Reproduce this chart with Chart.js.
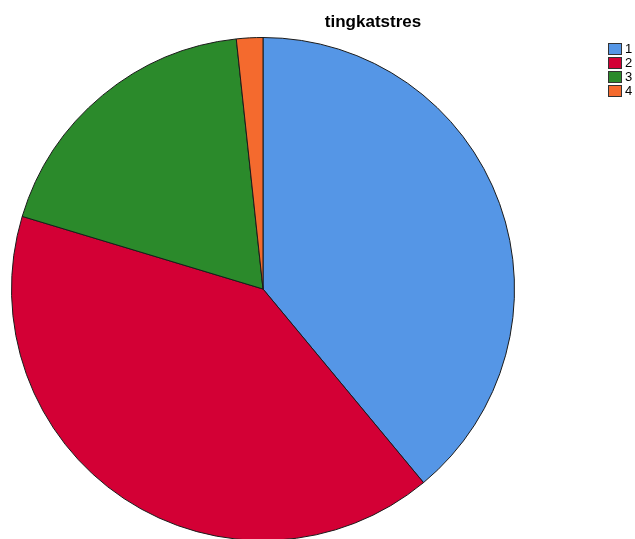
<!DOCTYPE html>
<html>
<head>
<meta charset="utf-8">
<script src="https://cdn.jsdelivr.net/npm/chart.js@4"></script>
<style>
html,body{margin:0;padding:0;background:#fff;overflow:hidden;width:635px;height:539px;}
#wrap{position:absolute;left:0;top:0;width:635px;height:560px;}
</style>
</head>
<body>
<div id="wrap"><canvas id="c" width="635" height="560"></canvas></div>
<script>
const titleText = "tingkatstres";
const categories = ["1", "2", "3", "4"];
const counts = [23, 24, 11, 1];
const colors = ["#5596E6", "#D30035", "#2B8A2B", "#F46A2E"];

const overlay = {
  id: 'overlay',
  afterDraw(chart) {
    const ctx = chart.ctx;
    ctx.save();
    ctx.fillStyle = '#000';
    ctx.font = 'bold 17px "Liberation Sans", Arial, sans-serif';
    ctx.textAlign = 'center';
    ctx.textBaseline = 'alphabetic';
    ctx.fillText(titleText, 373, 27);
    ctx.font = '13px "Liberation Sans", Arial, sans-serif';
    ctx.textAlign = 'left';
    ctx.textBaseline = 'middle';
    categories.forEach((c, i) => {
      const y = 43 + i * 14;
      ctx.fillStyle = colors[i];
      ctx.fillRect(608, y, 14, 12);
      ctx.strokeStyle = '#333';
      ctx.lineWidth = 1;
      ctx.strokeRect(608.5, y + 0.5, 13, 11);
      ctx.fillStyle = '#000';
      ctx.fillText(c, 625, y + 6.5);
    });
    ctx.restore();
  }
};

new Chart(document.getElementById('c'), {
  type: 'pie',
  data: {
    labels: categories,
    datasets: [{
      data: counts,
      backgroundColor: colors,
      borderColor: '#1a1a1a',
      borderWidth: 1
    }]
  },
  options: {
    responsive: false,
    animation: false,
    layout: { padding: { left: 11, top: 37, right: 120, bottom: 19 } },
    plugins: {
      legend: { display: false },
      title: { display: false },
      tooltip: { enabled: false }
    }
  },
  plugins: [overlay]
});
</script>
</body>
</html>
